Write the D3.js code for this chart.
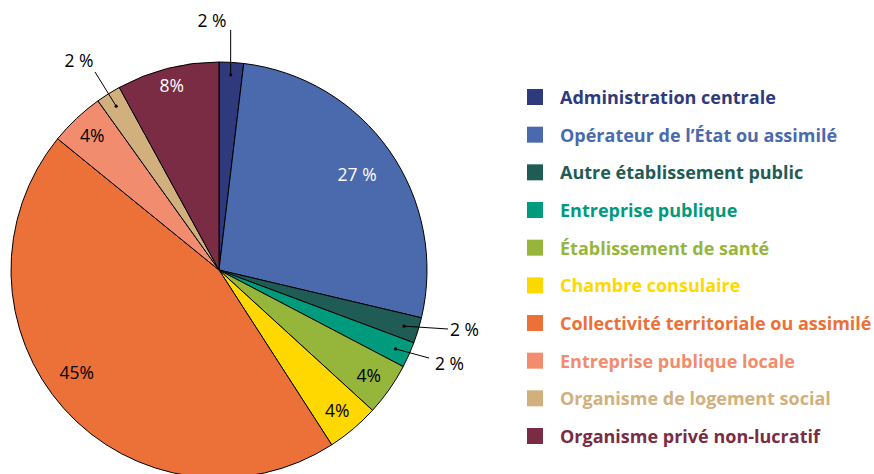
<!DOCTYPE html>
<html>
<head>
<meta charset="utf-8">
<script src="https://cdn.jsdelivr.net/npm/d3@7"></script>
<style>
  body { margin: 0; background: #fff; }
  text { font-family: "Open Sans", "Noto Sans", sans-serif; }
</style>
</head>
<body>
<svg id="chart"></svg>
<script>
// categories + values
var categories = ["Administration centrale", "Opérateur de l’État ou assimilé", "Autre établissement public",
  "Entreprise publique", "Établissement de santé", "Chambre consulaire",
  "Collectivité territoriale ou assimilé", "Entreprise publique locale",
  "Organisme de logement social", "Organisme privé non-lucratif"]
var values = [1.9, 26.8, 2.0, 2.0, 4.1, 4.1, 45.0, 4.25, 1.93, 7.96]
var labels = ["2 %", "27 %", "2 %", "2 %", "4%", "4%", "45%", "4%", "2 %", "8%"]
var colors = ["#2e3a7c", "#4a6aad", "#1f5c55", "#009a7c", "#95b63a", "#ffd800",
  "#eb7139", "#f28c6e", "#d2b07e", "#7a2c44"]
var labelColors = ["#000", "#fff", "#000", "#000", "#000", "#000", "#000", "#000", "#000", "#fff"]

var screen = {width: 874, height: 474}
var cx = 219, cy = 270, radius = 208

var svg = d3.select("#chart")
  .attr("width", screen.width)
  .attr("height", screen.height)

var data = categories.map(function(c, i) {
  return {name: c, value: values[i], label: labels[i], color: colors[i], tc: labelColors[i]}
})

var pie = d3.pie().sort(null).value(function(d) { return d.value })
var arcs = pie(data)
var arc = d3.arc().innerRadius(0).outerRadius(radius)

var g = svg.append("g").attr("transform", "translate(" + cx + "," + cy + ")")

g.selectAll("path")
  .data(arcs)
  .enter()
  .append("path")
  .attr("d", arc)
  .attr("fill", function(d) { return d.data.color })
  .attr("stroke", "#000")
  .attr("stroke-width", 1)

// inside labels: radius fraction (and small angle shift) per slice
var inner = {1: [0.81, 0], 4: [0.88, 0], 5: [0.88, 0], 6: [0.84, 0.11], 7: [0.89, 0], 9: [0.92, 0]}
arcs.forEach(function(a, i) {
  if (inner[i] === undefined) return
  var r = radius * inner[i][0]
  var ang = (a.startAngle + a.endAngle) / 2 + inner[i][1]
  g.append("text")
    .attr("x", r * Math.sin(ang)).attr("y", -r * Math.cos(ang))
    .attr("text-anchor", "middle")
    .attr("dominant-baseline", "central")
    .attr("font-size", 17.5)
    .attr("fill", a.data.tc)
    .text(a.data.label)
})

// outside labels with leader lines: [slice, dot radius, end dx, end dy, text x, text y, anchor]
var outside = [
  [0, 0.94, 0, -240, -7, -250, "middle"],
  [2, 0.93, 229, 59, 231, 59, "start"],
  [3, 0.93, 210, 88, 216, 93, "start"],
  [8, 0.93, -124, -198, -140, -210, "middle"]
]
outside.forEach(function(o) {
  var a = arcs[o[0]]
  var r = radius * o[1]
  var p = d3.arc().innerRadius(r).outerRadius(r).centroid(a)
  g.append("line")
    .attr("x1", p[0]).attr("y1", p[1])
    .attr("x2", o[0] == 0 ? p[0] : o[2]).attr("y2", o[3])
    .attr("stroke", "#000").attr("stroke-width", 1)
  g.append("circle").attr("cx", p[0]).attr("cy", p[1]).attr("r", 1.6).attr("fill", "#000")
  g.append("text")
    .attr("x", o[4]).attr("y", o[5])
    .attr("text-anchor", o[6])
    .attr("dominant-baseline", "central")
    .attr("font-size", 17.5)
    .attr("fill", "#000")
    .text(a.data.label)
})

// legend
var legend = svg.append("g")
var ly = d3.scaleLinear().domain([0, categories.length - 1]).range([97, 436])
var rows = legend.selectAll("g")
  .data(data)
  .enter()
  .append("g")
  .attr("transform", function(d, i) { return "translate(527," + ly(i) + ")" })
rows.append("rect")
  .attr("x", 0).attr("y", -8)
  .attr("width", 16).attr("height", 16)
  .attr("fill", function(d) { return d.color })
rows.append("text")
  .attr("x", 33).attr("y", 0)
  .attr("dominant-baseline", "central")
  .attr("font-size", 18)
  .attr("font-weight", "bold")
  .attr("fill", function(d) { return d.color })
  .text(function(d) { return d.name })
</script>
</body>
</html>
